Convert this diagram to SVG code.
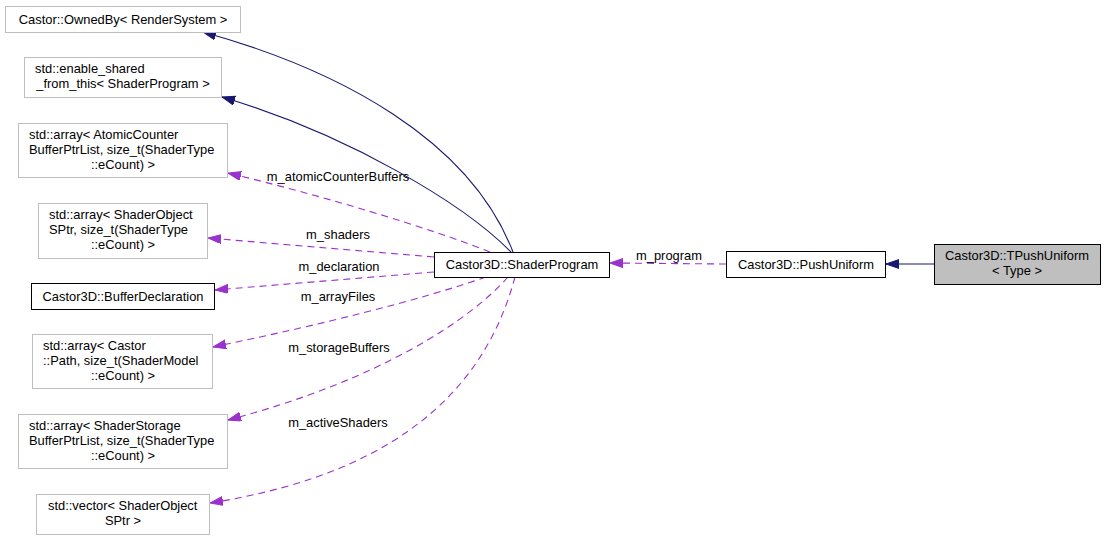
<svg xmlns="http://www.w3.org/2000/svg" width="1105" height="541" viewBox="0 0 1105 541">
<style>
  text { font-family: "Liberation Sans", Arial, sans-serif; font-size: 12.9px; fill: #000; }
  .c { text-anchor: middle; }
  .ext { fill: #fff; stroke: #bfbfbf; stroke-width: 1; }
  .doc { fill: #fff; stroke: #000; stroke-width: 1; }
  .cur { fill: #bfbfbf; stroke: #000; stroke-width: 1; }
  .inh { fill: none; stroke: #191970; stroke-width: 1.1; }
  .use { fill: none; stroke: #9a32cd; stroke-width: 1.1; stroke-dasharray: 7,5; }
</style>
<defs>
  <marker id="aInh" markerUnits="userSpaceOnUse" markerWidth="14" markerHeight="11" refX="13" refY="4.5" orient="auto">
    <path d="M0,0 L13,4.5 L0,9 Z" fill="#191970" stroke="#191970" stroke-width="1"/>
  </marker>
  <marker id="aUse" markerUnits="userSpaceOnUse" markerWidth="14" markerHeight="11" refX="13" refY="4.5" orient="auto">
    <path d="M0,0 L13,4.5 L0,9 Z" fill="#9a32cd" stroke="#9a32cd" stroke-width="1"/>
  </marker>
</defs>
<rect width="1105" height="541" fill="#fff"/>

<g id="connectors">
  <path class="inh" d="M934,264 L886,264" marker-end="url(#aInh)"/>
  <path class="inh" d="M513,252 C470,140 340,70 203,32" marker-end="url(#aInh)"/>
  <path class="inh" d="M511,252 C465,205 350,135 222,97" marker-end="url(#aInh)"/>
  <path class="use" d="M726,264 L610,263" marker-end="url(#aUse)"/>
  <path class="use" d="M490,252 C430,228 320,195 228,173" marker-end="url(#aUse)"/>
  <path class="use" d="M434,257 L208,238" marker-end="url(#aUse)"/>
  <path class="use" d="M434,272 L215,290" marker-end="url(#aUse)"/>
  <path class="use" d="M486,277 C420,300 320,325 213,347" marker-end="url(#aUse)"/>
  <path class="use" d="M508,277 C470,320 380,380 228,420" marker-end="url(#aUse)"/>
  <path class="use" d="M515,277 C490,370 420,470 210,503" marker-end="url(#aUse)"/>
  <text class="c" x="669" y="260">m_program</text>
  <text class="c" x="338" y="181">m_atomicCounterBuffers</text>
  <text class="c" x="338" y="239">m_shaders</text>
  <text class="c" x="339" y="271">m_declaration</text>
  <text class="c" x="338" y="301">m_arrayFiles</text>
  <text class="c" x="339" y="352">m_storageBuffers</text>
  <text class="c" x="338" y="427">m_activeShaders</text>
</g>

<g id="node-ownedby">
  <rect class="ext" x="5.5" y="6.5" width="235" height="26"/>
  <text class="c" x="123" y="24">Castor::OwnedBy&lt; RenderSystem &gt;</text>
</g>
<g id="node-enableshared">
  <rect class="ext" x="24.5" y="57.5" width="197" height="40"/>
  <text x="35" y="73">std::enable_shared</text>
  <text class="c" x="123" y="88">_from_this&lt; ShaderProgram &gt;</text>
</g>
<g id="node-atomic">
  <rect class="ext" x="18.5" y="123.5" width="209" height="54"/>
  <text x="29" y="139">std::array&lt; AtomicCounter</text>
  <text x="29" y="154">BufferPtrList, size_t(ShaderType</text>
  <text class="c" x="123" y="169">::eCount) &gt;</text>
</g>
<g id="node-shaders">
  <rect class="ext" x="38.5" y="203.5" width="169" height="55"/>
  <text x="49" y="219">std::array&lt; ShaderObject</text>
  <text x="49" y="234">SPtr, size_t(ShaderType</text>
  <text class="c" x="123" y="249">::eCount) &gt;</text>
</g>
<g id="node-bufferdecl">
  <rect class="doc" x="31.5" y="283.5" width="183" height="26"/>
  <text class="c" x="123" y="301">Castor3D::BufferDeclaration</text>
</g>
<g id="node-arrayfiles">
  <rect class="ext" x="32.5" y="334.5" width="180" height="54"/>
  <text x="43" y="350">std::array&lt; Castor</text>
  <text x="43" y="365">::Path, size_t(ShaderModel</text>
  <text class="c" x="123" y="380">::eCount) &gt;</text>
</g>
<g id="node-storage">
  <rect class="ext" x="18.5" y="414.5" width="209" height="54"/>
  <text x="29" y="430">std::array&lt; ShaderStorage</text>
  <text x="29" y="445">BufferPtrList, size_t(ShaderType</text>
  <text class="c" x="123" y="460">::eCount) &gt;</text>
</g>
<g id="node-vector">
  <rect class="ext" x="36.5" y="494.5" width="173" height="40"/>
  <text x="48" y="510">std::vector&lt; ShaderObject</text>
  <text class="c" x="123" y="525">SPtr &gt;</text>
</g>
<g id="node-shaderprogram">
  <rect class="doc" x="434.5" y="252.5" width="175" height="25"/>
  <text class="c" x="522" y="269">Castor3D::ShaderProgram</text>
</g>
<g id="node-pushuniform">
  <rect class="doc" x="726.5" y="251.5" width="159" height="26"/>
  <text class="c" x="806" y="269">Castor3D::PushUniform</text>
</g>
<g id="node-tpushuniform">
  <rect class="cur" x="934.5" y="244.5" width="166" height="40"/>
  <text class="c" x="1017" y="260">Castor3D::TPushUniform</text>
  <text class="c" x="1017" y="275">&lt; Type &gt;</text>
</g>
</svg>
